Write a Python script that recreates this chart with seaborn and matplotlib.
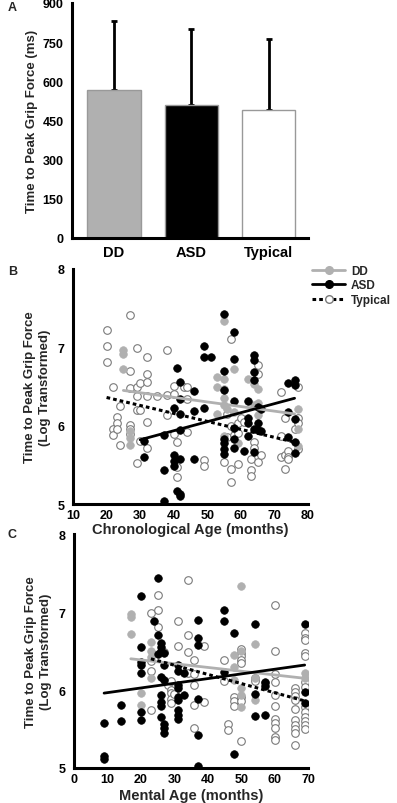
import numpy as np
import pandas as pd
import matplotlib
matplotlib.use("Agg")
import matplotlib.pyplot as plt
from matplotlib.lines import Line2D
import seaborn as sns

# ---- panel A: mean time to peak grip force ----
groups = ["DD", "ASD", "Typical"]
mean_ms = [565, 510, 490]
sd_ms = [265, 290, 272]

# ---- panel B: chronological age scatter ----
b_dd_x = [25, 25, 25, 27, 27, 27, 53, 53, 53, 55, 55, 55, 55, 55, 55, 56, 58, 58, 59, 62, 64, 64, 65, 65, 65, 77, 77, 77]
b_dd_y = [6.96, 6.92, 6.72, 5.93, 5.84, 5.75, 6.62, 6.49, 6.15, 7.33, 6.60, 6.47, 6.35, 6.26, 5.87, 6.21, 6.72, 6.17, 5.78, 6.59, 6.53, 6.26, 6.47, 6.13, 6.29, 6.21, 5.96, 5.74]

b_asd_x = [31, 31, 37, 37, 37, 40, 40, 40, 40, 41, 41, 42, 42, 42, 42, 42, 42, 42,
           46, 46, 46, 49, 49, 49, 51, 55, 55, 55, 55, 55, 55, 55,
           58, 58, 58, 58, 58, 58, 61, 62, 62, 62, 62,
           64, 64, 64, 64, 64, 64, 65, 65, 65, 66, 66, 74, 74, 74, 76, 76, 76, 76, 76]
b_asd_y = [5.81, 5.60, 5.88, 5.43, 5.04, 6.23, 5.62, 5.55, 5.49, 6.73, 5.17, 6.56, 6.34, 6.15, 5.94, 5.57, 5.13, 5.10,
           6.44, 6.19, 5.57, 7.02, 6.88, 6.23, 6.88, 7.43, 6.70, 6.45, 5.83, 5.78, 5.70, 5.64,
           7.20, 6.85, 6.32, 5.97, 5.83, 5.72, 5.68, 6.32, 6.10, 6.04, 5.87,
           6.90, 6.84, 6.68, 6.58, 5.96, 5.66, 6.24, 6.04, 5.94, 6.21, 5.93, 6.55, 6.18, 5.85, 6.58, 6.52, 6.08, 5.79, 5.65]

b_typ_x = [20, 20, 20, 22, 22, 22, 23, 23, 23, 24, 24, 27, 27, 27, 27, 27, 27,
           29, 29, 29, 29, 29, 30, 30, 30, 32, 32, 32, 32, 32, 32, 35,
           38, 38, 38, 40, 40, 40, 41, 41, 41, 43, 44, 44, 44,
           49, 49, 55, 56, 56, 57, 57, 57, 57, 58, 59, 59, 59, 60, 61,
           63, 63, 63, 64, 64, 65, 65, 65, 66,
           72, 72, 72, 73, 73, 73, 74, 74, 74, 76, 77, 77, 77, 77]
b_typ_y = [7.22, 7.02, 6.81, 6.50, 5.96, 5.88, 6.11, 6.04, 5.96, 6.25, 5.75, 7.41, 6.70, 6.48, 6.01, 5.96, 5.89,
           6.99, 6.49, 6.38, 6.20, 5.52, 6.55, 6.20, 5.81, 6.88, 6.66, 6.56, 6.38, 6.05, 5.72, 6.38,
           6.97, 6.39, 6.13, 6.51, 6.40, 5.89, 5.79, 5.47, 5.35, 6.49, 6.49, 6.34, 5.92,
           5.56, 5.49, 5.53, 6.15, 5.85, 7.11, 6.00, 5.45, 5.28, 5.88, 6.03, 5.91, 5.51, 6.10, 6.05,
           5.57, 5.43, 5.36, 5.79, 5.72, 6.77, 6.66, 5.53, 5.62,
           6.43, 5.87, 5.60, 6.10, 5.62, 5.45, 5.68, 5.60, 5.57, 5.96, 6.50, 6.10, 6.04, 5.70]

# fitted lines (end points)
b_fit_age = {"DD": [25, 76], "ASD": [30, 76], "Typical": [20, 76]}
b_fit_val = {"DD": [6.45, 6.15], "ASD": [5.82, 6.35], "Typical": [6.36, 5.79]}

# ---- panel C: mental age scatter ----
c_dd_x = [17, 17, 17, 20, 20, 23, 23, 23, 23, 48, 48, 48, 50, 50, 50, 50, 50, 54, 54, 54, 69, 69]
c_dd_y = [6.98, 6.94, 6.72, 5.96, 5.81, 6.62, 6.50, 6.42, 6.15, 6.45, 6.29, 6.13, 7.33, 6.50, 6.02, 5.94, 5.78, 6.59, 5.87, 6.15, 6.22, 6.15]

c_asd_x = [9, 9, 9, 14, 14, 20, 20, 20, 20, 20, 20, 20,
           24, 25, 25, 25, 26, 26, 26, 26, 26, 26, 26, 26,
           27, 27, 27, 27, 27, 27,
           31, 31, 31, 31, 31, 31, 31, 31, 31, 33, 33,
           37, 37, 37, 37, 37, 37,
           45, 45, 45, 48, 48, 54, 54, 54, 57, 57, 57, 69, 69, 69]
c_asd_y = [5.58, 5.16, 5.11, 5.81, 5.60, 7.20, 6.55, 6.36, 6.32, 6.22, 5.72, 5.62,
           6.89, 7.43, 6.70, 6.46, 6.60, 6.55, 6.50, 6.17, 5.94, 5.84, 5.80, 5.65,
           6.47, 6.32, 6.13, 5.57, 5.51, 5.45,
           6.32, 6.25, 6.06, 6.03, 5.91, 5.87, 5.74, 5.68, 5.63, 6.22, 5.94,
           6.90, 6.67, 6.58, 5.88, 5.42, 5.03,
           7.02, 6.88, 6.23, 6.73, 5.18, 6.84, 5.95, 5.67, 6.10, 6.05, 5.68, 6.85, 5.97, 5.83]

c_typ_x = [23, 23, 23, 23, 25, 25, 25, 27, 28, 29, 29, 29, 29, 29, 30,
           31, 31, 34, 34, 34, 34, 36, 36, 36, 36, 36, 39, 39,
           45, 45, 46, 46, 48, 48, 48,
           50, 50, 50, 50, 50, 50, 50, 50, 54, 54, 57,
           60, 60, 60, 60, 60, 60, 60, 60, 60, 60, 60,
           66, 66, 66, 66, 66, 66, 66, 66, 66, 66,
           69, 69, 69, 69, 69, 69, 69, 69, 69, 69, 69, 69, 69]
c_typ_y = [6.99, 6.37, 6.25, 5.75, 7.22, 7.02, 6.81, 6.49, 6.06, 6.11, 6.00, 5.96, 5.89, 5.83, 5.95,
           6.88, 6.56, 7.41, 6.70, 6.49, 6.22, 6.38, 6.21, 6.06, 5.81, 5.51, 6.56, 5.84,
           6.39, 6.11, 5.56, 5.49, 5.91, 5.86, 5.80,
           6.53, 6.48, 6.43, 6.38, 6.34, 5.91, 5.86, 5.34, 6.15, 6.12, 6.09,
           7.09, 6.50, 6.21, 6.10, 5.94, 5.79, 5.63, 5.58, 5.51, 5.40, 5.36,
           6.02, 5.98, 5.92, 5.87, 5.76, 5.62, 5.55, 5.50, 5.45, 5.29,
           6.73, 6.67, 6.64, 6.47, 6.44, 6.10, 6.04, 5.78, 5.72, 5.66, 5.60, 5.55, 5.50]

c_fit_age = {"DD": [17, 69], "ASD": [9, 69], "Typical": [23, 69]}
c_fit_val = {"DD": [6.40, 6.15], "ASD": [5.96, 6.32], "Typical": [6.40, 5.86]}

sns.set_theme(style="white")
plt.rcParams["font.family"] = ["Liberation Sans", "DejaVu Sans"]
plt.rcParams["font.weight"] = "bold"

GRAY = "#b0b0b0"
EDGE = "#7a7a7a"
DOTS = (0, (1.2, 1.0))

fig = plt.figure(figsize=(3.97, 8.04), dpi=100)
W, H = 397.0, 804.0


def add_ax(left, top, right, bottom):
    ax = fig.add_axes([left / W, 1 - bottom / H, (right - left) / W, (bottom - top) / H])
    ax.patch.set_alpha(0)
    return ax


def style_ax(ax):
    sns.despine(ax=ax)
    for s in ["left", "bottom"]:
        ax.spines[s].set_linewidth(2.2)
        ax.spines[s].set_color("black")
    ax.tick_params(axis="both", direction="out", length=4, width=2, colors="black",
                   labelsize=9, pad=2)
    ax.tick_params(axis="x", length=2.5, pad=1)
    for lab in ax.get_xticklabels() + ax.get_yticklabels():
        lab.set_fontweight("bold")


# ---------- A ----------
axA = add_ax(72, 4, 308, 239)
dfA = pd.DataFrame({"group": groups, "ms": mean_ms})
sns.barplot(data=dfA, x="group", y="ms", hue="group", palette=[GRAY, "black", "white"],
            width=0.69, edgecolor=["#999999", "black", "#bbbbbb"], linewidth=1, ax=axA,
            legend=False, zorder=2)
axA.errorbar(range(3), mean_ms, yerr=[[0, 0, 0], sd_ms], fmt="none", ecolor="black",
             elinewidth=2, capsize=2.5, capthick=2, zorder=1)
axA.set_ylim(0, 900)
axA.set_yticks([0, 150, 300, 450, 600, 750, 900])
axA.set_xlim(-0.545, 2.51)
axA.set_xlabel("")
axA.set_ylabel("Time to Peak Grip Force (ms)", fontsize=9.5, fontweight="bold", labelpad=3)
style_ax(axA)
axA.tick_params(axis="x", length=0, labelsize=10.5, pad=5)
fig.text(8 / W, 1 - 8 / H, "A", fontsize=9, fontweight="bold", ha="left", va="center")


def scatter_panel(ax, dd, asd, typ, fit_x, fit_y):
    sns.scatterplot(x=typ[0], y=typ[1], ax=ax, s=30, facecolor="white", edgecolor=EDGE,
                    linewidth=0.8, zorder=2)
    sns.scatterplot(x=dd[0], y=dd[1], ax=ax, s=30, color=GRAY, edgecolor=GRAY,
                    linewidth=0.5, zorder=3)
    sns.scatterplot(x=asd[0], y=asd[1], ax=ax, s=30, color="black", edgecolor="black",
                    linewidth=0.5, zorder=4)
    sns.lineplot(x=fit_x["DD"], y=fit_y["DD"], ax=ax, color=GRAY, linewidth=2, zorder=5)
    sns.lineplot(x=fit_x["ASD"], y=fit_y["ASD"], ax=ax, color="black", linewidth=2, zorder=6)
    sns.lineplot(x=fit_x["Typical"], y=fit_y["Typical"], ax=ax, color="black", linewidth=2.2,
                 linestyle=DOTS, zorder=6)
    ax.set_ylim(5, 8)
    ax.set_yticks([5, 6, 7, 8])
    ax.set_ylabel("Time to Peak Grip Force\n(Log Transformed)", fontsize=9.5,
                  fontweight="bold", labelpad=5, linespacing=1.25)


# ---------- B ----------
axB = add_ax(73, 270, 308, 505)
scatter_panel(axB, (b_dd_x, b_dd_y), (b_asd_x, b_asd_y), (b_typ_x, b_typ_y), b_fit_age, b_fit_val)
axB.set_xlim(10, 80)
axB.set_xticks(range(10, 81, 10))
axB.set_xlabel("Chronological Age (months)", fontsize=10.5, fontweight="bold", labelpad=1)
style_ax(axB)
fig.text(8 / W, 1 - 272 / H, "B", fontsize=9, fontweight="bold", ha="left", va="center")

handles = [
    Line2D([], [], color=GRAY, lw=2, marker="o", markersize=5.5, markerfacecolor=GRAY,
           markeredgecolor=GRAY),
    Line2D([], [], color="black", lw=2, marker="o", markersize=5.5, markerfacecolor="black"),
    Line2D([], [], color="black", lw=2.2, linestyle=DOTS, marker="o", markersize=5.5,
           markerfacecolor="white", markeredgecolor=EDGE),
]
fig.legend(handles, groups, loc="upper left", bbox_to_anchor=(312 / W, 1 - 266 / H),
           frameon=False, handlelength=2.8, handletextpad=0.5, labelspacing=0.2,
           prop={"weight": "bold", "size": 8.5}, borderaxespad=0, borderpad=0)

# ---------- C ----------
axC = add_ax(74, 535, 308, 769)
scatter_panel(axC, (c_dd_x, c_dd_y), (c_asd_x, c_asd_y), (c_typ_x, c_typ_y), c_fit_age, c_fit_val)
axC.set_xlim(0, 70)
axC.set_xticks(range(0, 71, 10))
axC.set_xlabel("Mental Age (months)", fontsize=10.5, fontweight="bold", labelpad=2)
style_ax(axC)
fig.text(8 / W, 1 - 535 / H, "C", fontsize=9, fontweight="bold", ha="left", va="center")

fig.savefig("out.png", dpi=100, facecolor="white")
